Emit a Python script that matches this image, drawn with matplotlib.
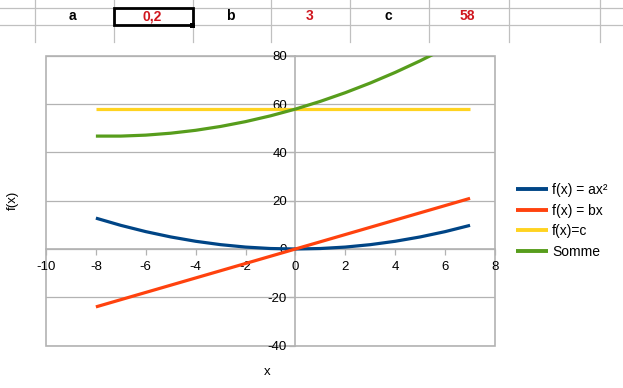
import matplotlib
matplotlib.use('Agg')
import matplotlib.pyplot as plt
from matplotlib.lines import Line2D
from matplotlib.patches import Rectangle

plt.rcParams['font.family'] = ['Liberation Sans', 'DejaVu Sans']
plt.rcParams['axes.unicode_minus'] = False

# spreadsheet row above the chart
param_names = ['a', 'b', 'c']
param_values = ['0,2', '3', '58']

# chart data at integer x
x = [-8, -7, -6, -5, -4, -3, -2, -1, 0, 1, 2, 3, 4, 5, 6, 7]
f_ax2 = [12.8, 9.8, 7.2, 5.0, 3.2, 1.8, 0.8, 0.2, 0, 0.2, 0.8, 1.8, 3.2, 5.0, 7.2, 9.8]
f_bx = [-24, -21, -18, -15, -12, -9, -6, -3, 0, 3, 6, 9, 12, 15, 18, 21]
f_c = [58, 58, 58, 58, 58, 58, 58, 58, 58, 58, 58, 58, 58, 58, 58, 58]
somme = [46.8, 46.8, 47.2, 48.0, 49.2, 50.8, 52.8, 55.2, 58, 61.2, 64.8, 68.8, 73.2, 78, 83.2, 88.8]

series = [
    ('f(x) = ax²', f_ax2, '#004586'),
    ('f(x) = bx', f_bx, '#ff420e'),
    ('f(x)=c', f_c, '#ffd320'),
    ('Somme', somme, '#579d1c'),
]

W, H = 623, 388


def px(v):
    return v / W


def py(v):
    return 1 - v / H


fig = plt.figure(figsize=(W / 100, H / 100), dpi=100)
fig.patch.set_facecolor('white')

grid_col = '#c0c0c0'
# cell grid
for yy in [7.5, 25]:
    fig.add_artist(Line2D([0, 1], [py(yy), py(yy)], color=grid_col, lw=0.9))
col_edges = [34.5, 113.5, 192.5, 271, 350, 429, 508.5, 600]
for xx in col_edges:
    fig.add_artist(Line2D([px(xx), px(xx)], [1, py(42)], color=grid_col, lw=0.9))

red = '#d0161e'
for i, (n, v) in enumerate(zip(param_names, param_values)):
    c1 = (col_edges[2 * i] + col_edges[2 * i + 1]) / 2
    c2 = (col_edges[2 * i + 1] + col_edges[2 * i + 2]) / 2
    fig.text(px(c1 - 1.5), py(16.5), n, ha='center', va='center',
             fontsize=10, fontweight='bold', color='black')
    fig.text(px(c2 - 1), py(16.5), v, ha='center', va='center',
             fontsize=10, fontweight='bold', color=red)

# selected cell
fig.add_artist(Rectangle((px(113.5), py(25)), px(192.5) - px(113.5), py(7.5) - py(25),
                         fill=False, edgecolor='black', lw=2.0, zorder=5))
fig.add_artist(Rectangle((px(190), py(27.5)), px(5), 5 / H,
                         facecolor='black', edgecolor='none', zorder=6))

ax = fig.add_axes([px(46), py(345.5), px(495) - px(46), py(56) - py(345.5)])
for name, vals, col in series:
    ax.plot(x, vals, color=col, lw=2.3, label=name, solid_capstyle='butt')

ax.set_xlim(-10, 8)
ax.set_ylim(-40, 80)
ax.set_xticks(range(-10, 9, 2))
ax.set_yticks(range(-40, 81, 20))
ax.yaxis.grid(True, color='#b3b3b3', lw=0.9)
ax.set_axisbelow(True)

axis_col = '#b3b3b3'
ax.spines['left'].set_position(('data', 0))
ax.spines['bottom'].set_position(('data', 0))
ax.spines['top'].set_visible(False)
ax.spines['right'].set_visible(False)
for s in ['left', 'bottom']:
    ax.spines[s].set_color(axis_col)
    ax.spines[s].set_linewidth(1.2)
    ax.spines[s].set_zorder(0.5)
ax.add_patch(Rectangle((0, 0), 1, 1, transform=ax.transAxes, fill=False,
                       edgecolor=axis_col, lw=1.2, clip_on=False, zorder=0.5))

ax.tick_params(axis='both', direction='out', length=4, width=0.9,
               color=axis_col, labelsize=9.5, labelcolor='black')
ax.tick_params(axis='x', pad=5)
ax.tick_params(axis='y', pad=2)

fig.text(px(13), py(200), 'f(x)', rotation=90, ha='center', va='center', fontsize=9.5)
fig.text(px(267), py(372), 'x', ha='center', va='center', fontsize=9.5)

leg = ax.legend(loc='upper left', bbox_to_anchor=(px(516), py(183)),
                bbox_transform=fig.transFigure, frameon=False, fontsize=10,
                handlelength=2.3, handletextpad=0.3, labelspacing=0.48,
                borderpad=0, borderaxespad=0)
for h in leg.get_lines():
    h.set_linewidth(2.8)

fig.savefig('out.png', dpi=100)
